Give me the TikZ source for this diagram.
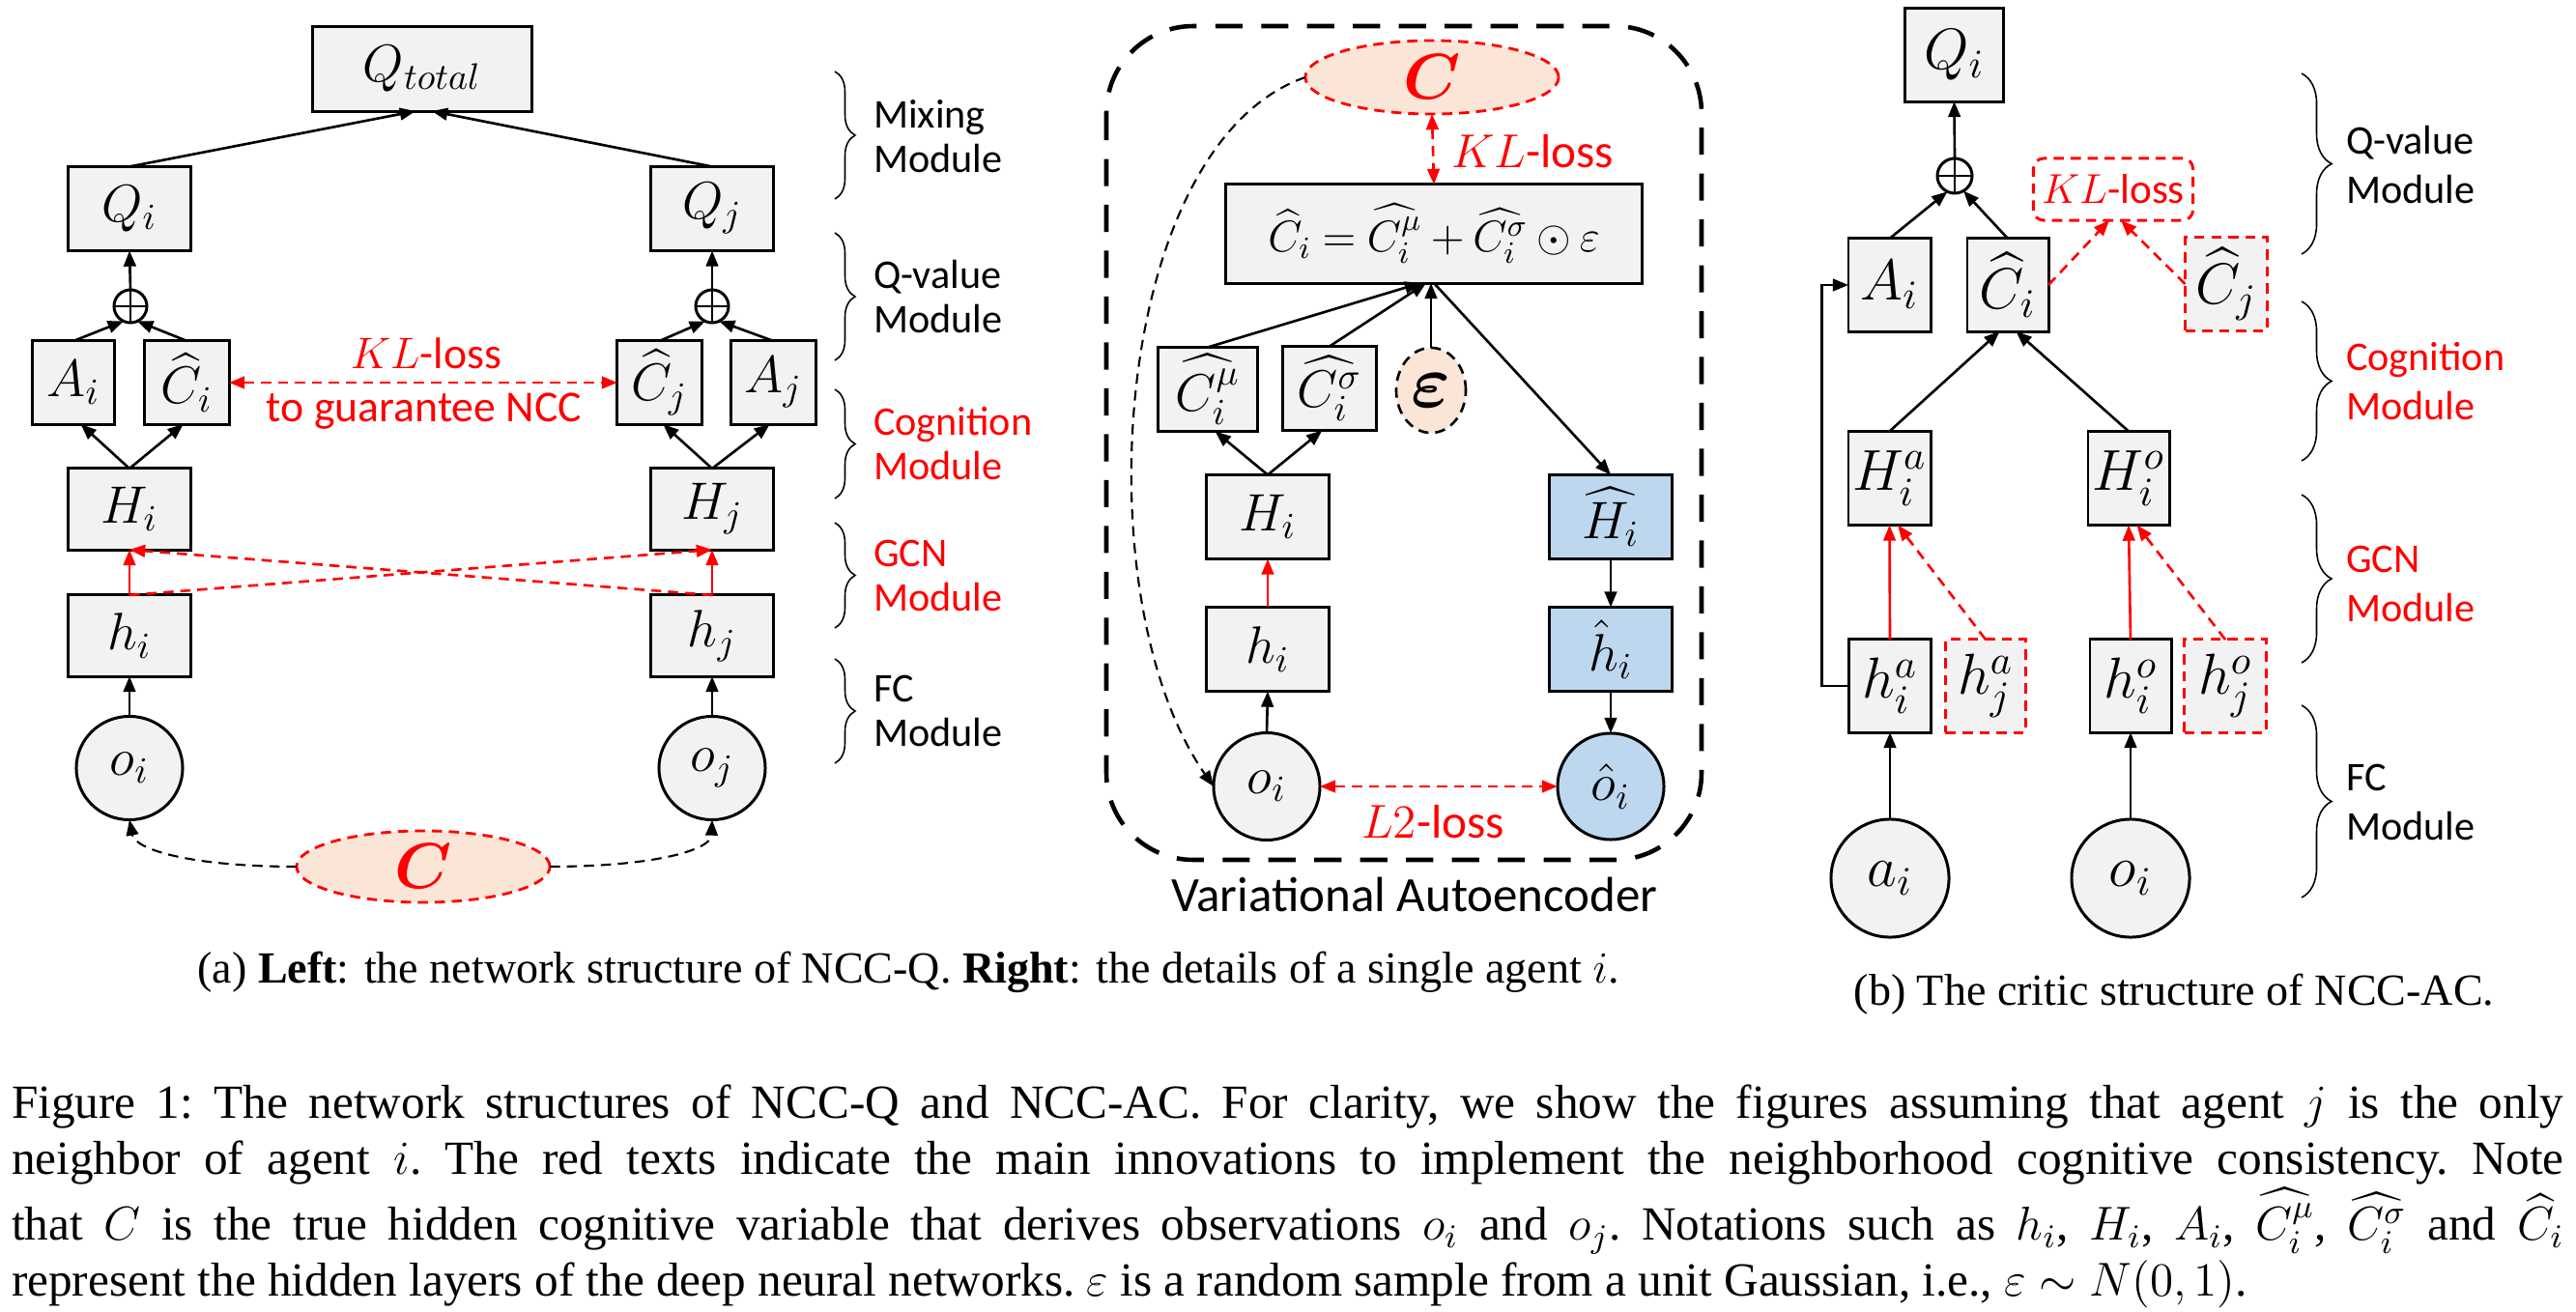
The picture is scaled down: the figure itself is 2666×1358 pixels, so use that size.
\RequirePackage{fix-cm}
\documentclass[tikz,border=0pt]{standalone}
\usepackage{amsmath}
\usepackage{fontspec}
\setmainfont{Liberation Serif}
\newfontfamily\calib{Carlito}
\usetikzlibrary{arrows.meta, shapes.geometric, decorations.pathreplacing}
\definecolor{boxgray}{HTML}{F2F2F2}
\definecolor{vaeblue}{HTML}{BDD7EE}
\definecolor{corange}{HTML}{FBE5D6}
\newcommand{\fML}{\fontsize{15.5}{18}\selectfont}
\newcommand{\fMF}{\fontsize{13}{16}\selectfont\thickmuskip=4.5mu\medmuskip=3.5mu}
\newcommand{\fMR}{\fontsize{17}{20}\selectfont}
\newcommand{\fMC}{\fontsize{19}{22}\selectfont}
\newcommand{\fME}{\fontsize{22}{25}\selectfont}
\newcommand{\fLL}{\calib\fontsize{12}{13.1}\selectfont}
\newcommand{\fLR}{\calib\fontsize{12}{14.5}\selectfont}
\newcommand{\fRed}{\calib\fontsize{13}{15}\selectfont}
\newcommand{\fRedS}{\calib\fontsize{12.3}{14}\selectfont}
\newcommand{\fRedM}{\calib\fontsize{14}{16}\selectfont}
\newcommand{\fVae}{\calib\fontsize{14.5}{17}\selectfont}
\newcommand{\fSub}{\fontsize{13.1}{15.9}\selectfont}
\newcommand{\fCap}{\fontsize{14}{16.5}\selectfont\frenchspacing}
\begin{document}
\begin{tikzpicture}[x=0.01cm, y=-0.01cm,
  >={Triangle[length=4.6pt,width=3.6pt]},
  every node/.style={inner sep=0pt, outer sep=0pt},
  sz/.style 2 args={minimum width=#1, minimum height=#2},
  gbox/.style={draw, line width=0.85pt, fill=boxgray, font=\fML},
  bbox/.style={gbox, fill=vaeblue},
  rdbox/.style={draw=red, line width=0.85pt, dash pattern=on 3pt off 2pt, fill=boxgray, font=\fMR},
  circ/.style={ellipse, draw, line width=0.85pt, fill=boxgray, font=\fML},
  bcirc/.style={circ, fill=vaeblue},
  cnode/.style={ellipse, draw=red, line width=0.8pt, dash pattern=on 3pt off 2pt, fill=corange, text=red, font=\fMC},
  opl/.style={circle, draw, line width=0.85pt, minimum size=#1,
     path picture={\draw[line width=0.7pt] (path picture bounding box.north) -- (path picture bounding box.south)
        (path picture bounding box.west) -- (path picture bounding box.east);}},
  arr/.style={->, line width=0.75pt},
  rarr/.style={->, draw=red, line width=0.75pt},
  rdarr/.style={->, draw=red, line width=0.75pt, dash pattern=on 3pt off 2pt},
  rddarr/.style={<->, draw=red, line width=0.75pt, dash pattern=on 3pt off 2pt},
  kdarr/.style={->, line width=0.6pt, dash pattern=on 3pt off 2pt},
  brc/.style={decorate, decoration={brace, amplitude=#1}, line width=0.45pt},
  modlab/.style={anchor=west, align=left, font=\fLL},
  modlabR/.style={anchor=west, align=left, font=\fLR},
  redlab/.style={text=red, font=\fRed},
  vaebox/.style={line width=1.3pt, dash pattern=on 8pt off 5.5pt, rounded corners=0.9cm}
]
\path[fill=white, use as bounding box] (0,0) rectangle (2666,1358);

% ================= Left panel =================
\node[gbox, sz={2.26cm}{0.87cm}] (Qtot) at (437,71.5) {$Q_{total}$};
\node[gbox, sz={1.26cm}{0.87cm}] (Qi) at (134,216) {$Q_i$};
\node[gbox, sz={1.26cm}{0.87cm}] (Qj) at (737,216) {$Q_j$};
\node[opl=0.34cm] (opi) at (135,317) {};
\node[opl=0.34cm] (opj) at (737,317) {};
\node[gbox, sz={0.84cm}{0.86cm}] (Ai) at (76,396) {$A_i$};
\node[gbox, sz={0.87cm}{0.86cm}] (Chi) at (193.5,396) {$\widehat{C}_i$};
\node[gbox, sz={0.87cm}{0.86cm}] (Chj) at (682.5,396) {$\widehat{C}_j$};
\node[gbox, sz={0.87cm}{0.86cm}] (Aj) at (800.5,396) {$A_j$};
\node[gbox, sz={1.26cm}{0.84cm}] (Hi) at (134,527) {$H_i$};
\node[gbox, sz={1.26cm}{0.84cm}] (Hj) at (737,527) {$H_j$};
\node[gbox, sz={1.26cm}{0.84cm}] (hi) at (134,658) {$h_i$};
\node[gbox, sz={1.26cm}{0.84cm}] (hj) at (737,658) {$h_j$};
\node[circ, sz={1.10cm}{1.07cm}] (oi) at (134,795) {$o_i$};
\node[circ, sz={1.10cm}{1.07cm}] (oj) at (737,795) {$o_j$};
\node[cnode, sz={2.62cm}{0.74cm}] (CL) at (438,897) {$\boldsymbol{C}$};

\draw[arr] (Qi.north) -- ([xshift=-0.07cm]Qtot.south);
\draw[arr] (Qj.north) -- ([xshift=0.1cm]Qtot.south);
\draw[arr] (opi.north) -- (Qi.south);
\draw[arr] (opj.north) -- (Qj.south);
\draw[arr] (Ai.north) -- (opi.-115);
\draw[arr] (Chi.north) -- (opi.-65);
\draw[arr] (Chj.north) -- (opj.-115);
\draw[arr] (Aj.north) -- (opj.-65);
\draw[arr] (Hi.north) -- (Ai.-80);
\draw[arr] (Hi.north) -- (Chi.-95);
\draw[arr] (Hj.north) -- (Chj.-85);
\draw[arr] (Hj.north) -- (Aj.-95);
\draw[rddarr] (Chi.east) -- (Chj.west);
\draw[rarr] (hi.north) -- (Hi.south);
\draw[rarr] (hj.north) -- (Hj.south);
\draw[rdarr] (hi.north) -- (Hj.south);
\draw[rdarr] (hj.north) -- (Hi.south);
\draw[arr] (oi.north) -- (hi.south);
\draw[arr] (oj.north) -- (hj.south);
\draw[kdarr] (CL.west) .. controls (200,897) and (140,880) .. (oi.south);
\draw[kdarr] (CL.east) .. controls (676,897) and (736,880) .. (oj.south);

\node[redlab] (kl1) at (441,366) {$KL$-loss};
\node[redlab] (kl2) at (439,426) {to guarantee NCC};

\draw[brc=0.21cm] (864,74) -- (864,206);
\draw[brc=0.21cm] (864,241) -- (864,373);
\draw[brc=0.21cm] (864,403) -- (864,516);
\draw[brc=0.21cm] (864,541) -- (864,650);
\draw[brc=0.21cm] (864,682) -- (864,790);
\node[modlab] (mixL) at (904,141) {Mixing\\Module};
\node[modlab] (qvL) at (904,307) {Q-value\\Module};
\node[modlab, text=red] (cogL) at (904,459) {Cognition\\Module};
\node[modlab, text=red] (gcnL) at (904,596) {GCN\\Module};
\node[modlab] (fcL) at (904,736) {FC\\Module};

% ================= Middle panel (VAE) =================
\draw[vaebox] (1145,27) rectangle (1761,890);
\node[cnode, sz={2.62cm}{0.76cm}] (Cm) at (1482,80) {$\boldsymbol{C}$};
\node[gbox, sz={4.31cm}{1.02cm}, font=\fMF] (F) at (1484,242) {$\widehat{C}_i = \widehat{C_i^{\mu}} + \widehat{C_i^{\sigma}} \odot \varepsilon$};
\node[gbox, sz={1.02cm}{0.87cm}] (Cmu) at (1250,403) {$\widehat{C_i^{\mu}}$};
\node[gbox, sz={0.96cm}{0.87cm}] (Csig) at (1376,402) {$\widehat{C_i^{\sigma}}$};
\node[ellipse, draw, line width=0.75pt, dash pattern=on 3pt off 2pt, fill=corange, sz={0.72cm}{0.88cm}, font=\fME] (eps) at (1481,404) {$\boldsymbol{\varepsilon}$};
\node[gbox, sz={1.27cm}{0.87cm}] (Hm) at (1312,535) {$H_i$};
\node[bbox, sz={1.27cm}{0.87cm}] (Hh) at (1667,535) {$\widehat{H_i}$};
\node[gbox, sz={1.27cm}{0.87cm}] (hm) at (1312,672) {$h_i$};
\node[bbox, sz={1.27cm}{0.87cm}] (hh) at (1667,672) {$\hat{h}_i$};
\node[circ, sz={1.10cm}{1.11cm}] (om) at (1311,814) {$o_i$};
\node[bcirc, sz={1.10cm}{1.10cm}] (oh) at (1667,814) {$\hat{o}_i$};

\draw[rddarr] (Cm.south) -- (F.north);
\draw[arr] (Cmu.north) -- ([xshift=-0.14cm]F.south);
\draw[arr] (Csig.north) -- ([xshift=-0.08cm]F.south);
\draw[arr] (eps.north) -- (eps.north |- F.south);
\draw[arr] (F.south) -- (Hh.north);
\draw[arr] (Hm.north) -- (Cmu.-80);
\draw[arr] (Hm.north) -- (Csig.-100);
\draw[rarr] (hm.north) -- (Hm.south);
\draw[arr] (om.north) -- (hm.south);
\draw[arr] (Hh.south) -- (hh.north);
\draw[arr] (hh.south) -- (oh.north);
\draw[rddarr] (om.east) -- (oh.west);
\draw[kdarr] (Cm.west) .. controls (1150,150) and (1120,620) .. (om.west);

\node[redlab, font=\fRedM, anchor=west] (klm) at (1502,157) {$KL$-loss};
\node[redlab, font=\fRedM] (l2) at (1483,851) {$L2$-loss};
\node[font=\fVae] (vae) at (1464,926) {Variational Autoencoder};

% ================= Right panel =================
\node[gbox, font=\fMR, sz={1.01cm}{0.96cm}] (Qr) at (2022.5,57) {$Q_i$};
\node[opl=0.36cm] (opr) at (2023,182) {};
\node[gbox, font=\fMR, sz={0.85cm}{0.96cm}] (Ar) at (1955.5,295) {$A_i$};
\node[gbox, font=\fMR, sz={0.84cm}{0.96cm}] (Cr) at (2078,295) {$\widehat{C}_i$};
\node[draw=red, line width=0.85pt, dash pattern=on 3pt off 2pt, rounded corners=3pt, sz={1.65cm}{0.64cm}, text=red, font=\fRedS] (KLr) at (2187,196) {$KL$-loss};
\node[rdbox, sz={0.85cm}{0.96cm}] (Cjr) at (2304,294) {$\widehat{C}_j$};
\node[gbox, font=\fMR, sz={0.85cm}{0.97cm}] (Har) at (1955.5,495) {$H_i^a$};
\node[gbox, font=\fMR, sz={0.84cm}{0.97cm}] (Hor) at (2203,495) {$H_i^o$};
\node[gbox, font=\fMR, sz={0.85cm}{0.96cm}] (har) at (1956,710) {$h_i^a$};
\node[rdbox, sz={0.83cm}{0.96cm}] (hjar) at (2055,710) {$h_j^a$};
\node[gbox, font=\fMR, sz={0.84cm}{0.96cm}] (hor) at (2205,710) {$h_i^o$};
\node[rdbox, sz={0.85cm}{0.96cm}] (hjor) at (2303,710) {$h_j^o$};
\node[circ, font=\fMR, minimum size=1.22cm] (ar) at (1956,909) {$a_i$};
\node[circ, font=\fMR, minimum size=1.22cm] (orr) at (2205,909) {$o_i$};

\draw[arr] (opr.north) -- (Qr.south);
\draw[arr] (Ar.north) -- (opr.-115);
\draw[arr] (Cr.north) -- (opr.-60);
\draw[arr] (Har.north) -- (Cr.-100);
\draw[arr] (Hor.north) -- (Cr.-80);
\draw[rdarr] (Cr.east) -- ([xshift=-0.04cm]KLr.south);
\draw[rdarr] (Cjr.west) -- ([xshift=0.08cm]KLr.south);
\draw[rarr] (har.north) -- (Har.south);
\draw[rarr] (hor.north) -- (Hor.south);
\draw[rdarr] (hjar.north) -- (Har.-80);
\draw[rdarr] (hjor.north) -- (Hor.-80);
\draw[arr] (ar.north) -- (har.south);
\draw[arr] (orr.north) -- (hor.south);
\draw[arr] (har.west) -- ++(-28,0) |- (Ar.west);

\draw[brc=0.31cm] (2382,76) -- (2382,263);
\draw[brc=0.31cm] (2382,312) -- (2382,477);
\draw[brc=0.31cm] (2382,512) -- (2382,686);
\draw[brc=0.31cm] (2382,730) -- (2382,929);
\node[modlabR] (qvR) at (2428,171) {Q-value\\Module};
\node[modlabR, text=red] (cogR) at (2428,395) {Cognition\\Module};
\node[modlabR, text=red] (gcnR) at (2428,604) {GCN\\Module};
\node[modlabR] (fcR) at (2428,830) {FC\\Module};

% ================= Captions =================
\node[font=\fSub, anchor=base] (capa) at (940,1017) {(a) \textbf{Left}: the network structure of NCC-Q. \textbf{Right}: the details of a single agent $i$.};
\node[font=\fSub, anchor=base] (capb) at (2250,1040) {(b) The critic structure of NCC-AC.};
\node[font=\fCap, anchor=base west, text width=26.40cm, align=justify] (cap) at (12,1157) {Figure 1: The network structures of NCC-Q and NCC-AC. For clarity, we show the figures assuming that agent $j$ is the only\linebreak neighbor of agent $i$. The red texts indicate the main innovations to implement the neighborhood cognitive consistency. Note\linebreak that $C$ is the true hidden cognitive variable that derives observations $o_i$ and $o_j$. Notations such as $h_i$, $H_i$, $A_i$, $\widehat{C_i^{\mu}}$, $\widehat{C_i^{\sigma}}$ and $\widehat{C_i}$\linebreak represent the hidden layers of the deep neural networks. $\varepsilon$ is a random sample from a unit Gaussian, i.e., $\varepsilon\sim N(0,1)$.};
\end{tikzpicture}
\end{document}
